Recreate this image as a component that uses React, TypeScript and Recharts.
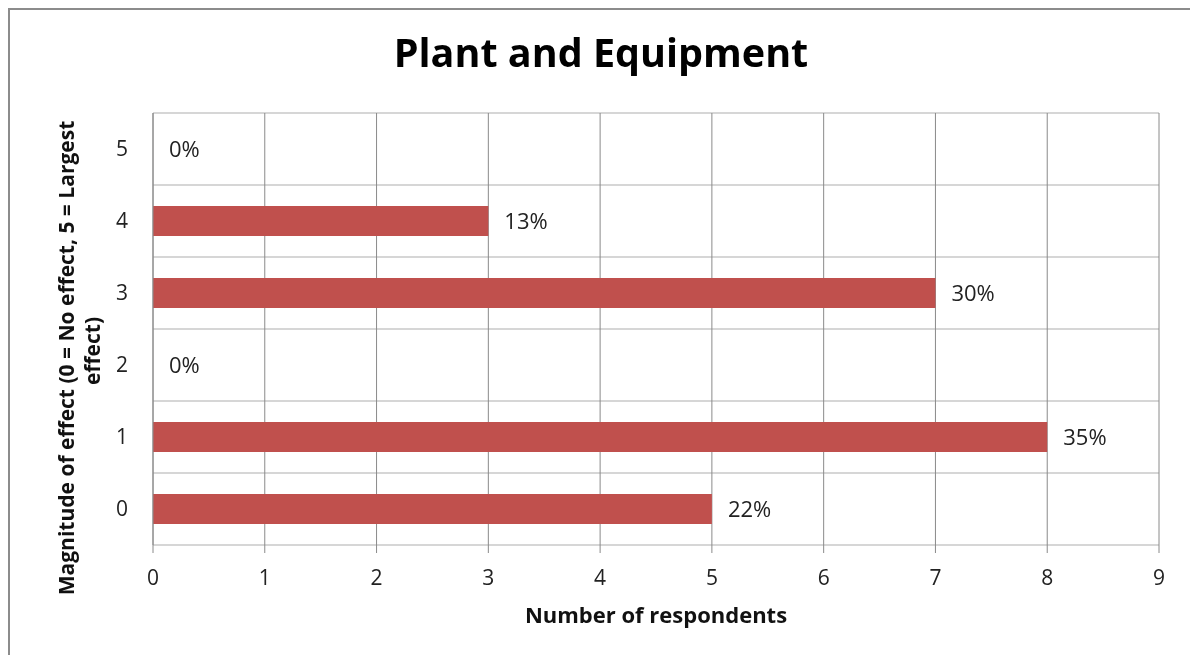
import React from "react";
import {
  Bar,
  BarChart,
  CartesianGrid,
  LabelList,
  XAxis,
  YAxis,
} from "recharts";

const categories = ["0", "1", "2", "3", "4", "5"];
const respondents = [5, 8, 0, 7, 3, 0];
const shareLabels = ["22%", "35%", "0%", "30%", "13%", "0%"];
const xTicks = [0, 1, 2, 3, 4, 5, 6, 7, 8, 9];

const data = categories.map((magnitude, i) => ({
  magnitude,
  count: respondents[i],
  share: shareLabels[i],
}));

const FONT = "'Open Sans', sans-serif";
const DARK_GRID = "#8a8a8a";
const LIGHT_GRID = "#c8c8c8";
const TEXT = "#222";

function XTick({ x, y, payload }: any) {
  return (
    <text x={x} y={y + 32} textAnchor="middle" fontFamily={FONT} fontSize={21} fill={TEXT}>
      {payload.value}
    </text>
  );
}

function YTick({ x, y, payload }: any) {
  return (
    <text x={x} y={y + 7} textAnchor="end" fontFamily={FONT} fontSize={21} fill={TEXT}>
      {payload.value}
    </text>
  );
}

function ShareLabel({ x, y, width, height, value }: any) {
  return (
    <text
      x={x + width + 16}
      y={y + height / 2 + 8}
      fontFamily={FONT}
      fontSize={22}
      fill={TEXT}
    >
      {value}
    </text>
  );
}

function XTitle({ viewBox }: any) {
  const cx = viewBox ? viewBox.x + viewBox.width / 2 : 648;
  return (
    <text x={cx} y={615} textAnchor="middle" fontFamily={FONT} fontSize={22} fontWeight={700} fill="#111">
      Number of respondents
    </text>
  );
}

function YTitle({ viewBox }: any) {
  const cy = viewBox ? viewBox.y + viewBox.height / 2 : 321;
  const y1 = cy + 29;
  const y2 = cy + 22;
  return (
    <g fontFamily={FONT} fontWeight={700} fontSize={21} fill="#111">
      <text x={66} y={y1} textAnchor="middle" transform={`rotate(-90, 66, ${y1})`}>
        Magnitude of effect (0 = No effect, 5 = Largest
      </text>
      <text x={92} y={y2} textAnchor="middle" transform={`rotate(-90, 92, ${y2})`}>
        effect)
      </text>
    </g>
  );
}

export default function App() {
  return (
    <div
      style={{
        position: "relative",
        width: 1182,
        height: 639,
        overflow: "hidden",
        fontFamily: FONT,
      }}
    >
      {/* chart frame: only the top and left edges are visible in the crop */}
      <div
        style={{
          position: "fixed",
          left: 8,
          top: 8,
          width: 1300,
          height: 800,
          borderTop: "2px solid #8c8c8c",
          borderLeft: "2px solid #8c8c8c",
          boxSizing: "border-box",
          pointerEvents: "none",
        }}
      />
      <div
        style={{
          position: "absolute",
          left: 0,
          top: 17,
          width: 1186,
          textAlign: "center",
          fontSize: 39.5,
          fontWeight: 700,
          color: "#000",
          whiteSpace: "nowrap",
        }}
      >
        Plant and Equipment
      </div>
      <BarChart
        width={1182}
        height={639}
        data={data}
        layout="vertical"
        margin={{ top: 105, right: 31, bottom: 0, left: 0 }}
        barSize={30}
      >
        <CartesianGrid
          vertical={false}
          stroke={LIGHT_GRID}
          strokeWidth={1.5}
          horizontalCoordinatesGenerator={({ offset }: any) =>
            categories.concat(["end"]).map((_, i) => offset.top + (i * offset.height) / categories.length)
          }
        />
        <CartesianGrid horizontal={false} stroke={DARK_GRID} />
        <XAxis
          type="number"
          domain={[0, 9]}
          ticks={xTicks}
          interval={0}
          height={102}
          axisLine={false}
          tickLine={{ stroke: DARK_GRID }}
          tickSize={8}
          tickMargin={0}
          tick={<XTick />}
          label={<XTitle />}
        />
        <YAxis
          type="category"
          dataKey="magnitude"
          reversed
          width={145}
          axisLine={{ stroke: DARK_GRID }}
          tickLine={false}
          tickSize={0}
          tickMargin={25}
          tick={<YTick />}
          label={<YTitle />}
        />
        <Bar dataKey="count" fill="#c0504d" minPointSize={0.01} isAnimationActive={false}>
          <LabelList dataKey="share" content={<ShareLabel />} />
        </Bar>
      </BarChart>
    </div>
  );
}
